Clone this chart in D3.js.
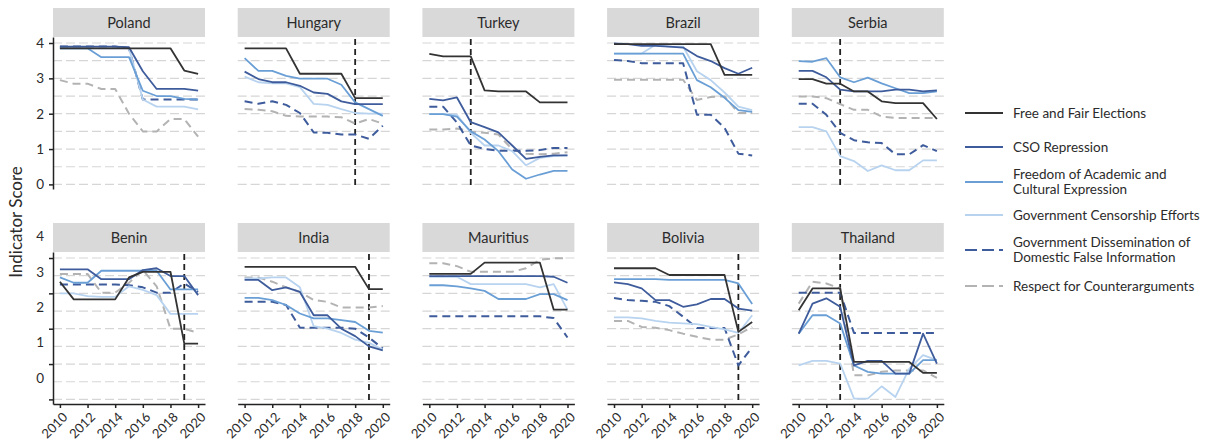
<!DOCTYPE html>
<html lang="en">
<head>
<meta charset="UTF-8" />
<title>Indicator Score by country</title>
<style>
  body { margin: 0; background: #fff; }
  svg { font-family: Lato, "Open Sans", sans-serif; }
</style>
</head>
<body>
<script src="https://cdn.jsdelivr.net/npm/d3@7"></script>
<div id="app"></div>
<script>
// data
const years = [2010, 2011, 2012, 2013, 2014, 2015, 2016, 2017, 2018, 2019, 2020];
const seriesNames = [
  "Free and Fair Elections",
  "CSO Repression",
  "Freedom of Academic and Cultural Expression",
  "Government Censorship Efforts",
  "Government Dissemination of Domestic False Information",
  "Respect for Counterarguments"
];
const countries = ["Poland", "Hungary", "Turkey", "Brazil", "Serbia",
                   "Benin", "India", "Mauritius", "Bolivia", "Thailand"];
const eventYears = [null, 2018, 2013, null, 2013, 2019, 2019, null, 2019, 2013];
const yTicks = [0, 1, 2, 3, 4];
const xTicks = [2010, 2012, 2014, 2016, 2018, 2020];

// rows follow seriesNames order
const poland = [
  [3.85, 3.85, 3.85, 3.85, 3.85, 3.85, 3.85, 3.85, 3.85, 3.22, 3.13],
  [3.9, 3.9, 3.9, 3.9, 3.9, 3.88, 3.2, 2.7, 2.7, 2.7, 2.65],
  [3.85, 3.85, 3.85, 3.6, 3.6, 3.6, 2.65, 2.5, 2.5, 2.42, 2.4],
  [3.85, 3.85, 3.85, 3.85, 3.85, 3.85, 2.4, 2.2, 2.2, 2.2, 2.12],
  [3.9, 3.9, 3.9, 3.9, 3.9, 3.85, 2.4, 2.4, 2.4, 2.4, 2.4],
  [2.95, 2.85, 2.85, 2.7, 2.7, 2.0, 1.5, 1.5, 1.85, 1.85, 1.35]
];
const hungary = [
  [3.85, 3.85, 3.85, 3.85, 3.13, 3.13, 3.13, 3.13, 2.44, 2.44, 2.44],
  [3.19, 2.98, 2.89, 2.89, 2.79, 2.6, 2.56, 2.35, 2.27, 2.27, 2.27],
  [3.57, 3.21, 3.21, 3.07, 2.99, 2.99, 2.99, 2.82, 2.32, 2.13, 1.94],
  [3.05, 2.89, 2.86, 2.86, 2.75, 2.28, 2.25, 2.13, 2.02, 2.0, 2.0],
  [2.35, 2.28, 2.35, 2.25, 2.02, 1.47, 1.46, 1.41, 1.41, 1.29, 1.66],
  [2.13, 2.11, 2.07, 1.94, 1.92, 1.92, 1.92, 1.9, 1.72, 1.85, 1.72]
];
const turkey = [
  [3.69, 3.62, 3.62, 3.62, 2.66, 2.63, 2.63, 2.63, 2.32, 2.32, 2.32],
  [2.42, 2.38, 2.46, 1.76, 1.62, 1.47, 1.1, 0.72, 0.78, 0.82, 0.82],
  [1.99, 1.99, 1.92, 1.5, 1.27, 0.94, 0.42, 0.16, 0.28, 0.38, 0.38],
  [1.99, 1.99, 1.97, 1.46, 1.1, 1.1, 0.94, 0.54, 0.75, 0.8, 0.82],
  [2.2, 2.2, 1.75, 1.1, 1.0, 0.95, 0.95, 0.95, 0.97, 1.03, 1.03],
  [1.55, 1.55, 1.58, 1.5, 1.46, 1.41, 0.99, 0.87, 0.85, 0.87, 0.91]
];
const brazil = [
  [3.97, 3.97, 3.97, 3.97, 3.97, 3.97, 3.97, 3.97, 3.1, 3.1, 3.1],
  [3.99, 3.97, 3.92, 3.92, 3.9, 3.87, 3.63, 3.49, 3.29, 3.13, 3.3],
  [3.7, 3.7, 3.7, 3.7, 3.7, 3.7, 2.95, 2.75, 2.45, 2.1, 2.05],
  [3.7, 3.7, 3.7, 3.95, 3.9, 3.9, 3.2, 2.95, 2.6, 2.2, 2.1],
  [3.52, 3.49, 3.43, 3.43, 3.43, 3.43, 1.97, 1.97, 1.6, 0.87, 0.82],
  [2.96, 2.96, 2.96, 2.96, 2.96, 2.96, 2.39, 2.47, 2.49, 2.02, 2.02]
];
const serbia = [
  [2.98, 2.98, 2.85, 2.85, 2.63, 2.63, 2.35, 2.3, 2.3, 2.3, 1.85],
  [3.21, 3.21, 3.03, 2.68, 2.63, 2.63, 2.63, 2.68, 2.68, 2.63, 2.66],
  [3.49, 3.47, 3.57, 3.03, 2.89, 3.02, 2.86, 2.72, 2.58, 2.58, 2.63],
  [1.62, 1.62, 1.5, 0.8, 0.66, 0.38, 0.54, 0.4, 0.4, 0.68, 0.68],
  [2.28, 2.28, 1.97, 1.46, 1.25, 1.19, 1.17, 0.85, 0.85, 1.11, 0.94],
  [2.49, 2.49, 2.44, 2.27, 2.11, 2.11, 1.92, 1.88, 1.88, 1.88, 1.88]
];
const benin = [
  [3.33, 2.83, 2.83, 2.83, 2.83, 3.45, 3.61, 3.61, 3.61, 1.58, 1.58],
  [3.68, 3.68, 3.68, 3.4, 3.4, 3.4, 3.66, 3.71, 3.49, 3.49, 2.95],
  [3.45, 3.3, 3.3, 3.64, 3.64, 3.64, 3.64, 3.64, 3.11, 3.11, 3.11],
  [3.0, 3.0, 2.92, 2.9, 2.9, 3.2, 3.1, 2.95, 2.42, 2.42, 2.42],
  [3.25, 3.25, 3.25, 3.25, 3.25, 3.23, 3.17, 3.02, 3.02, 3.28, 3.04],
  [3.55, 3.55, 3.55, 3.02, 3.02, 3.3, 3.66, 3.2, 2.0, 2.0, 1.88]
];
const india = [
  [3.75, 3.75, 3.75, 3.75, 3.75, 3.75, 3.75, 3.75, 3.75, 3.12, 3.12],
  [3.38, 3.38, 3.09, 3.17, 3.04, 2.38, 2.38, 2.0, 1.79, 1.5, 1.39],
  [2.87, 2.87, 2.81, 2.67, 2.43, 2.29, 2.29, 2.24, 2.19, 1.94, 1.89],
  [3.42, 3.42, 3.45, 3.45, 3.17, 2.07, 2.0, 1.88, 1.69, 1.6, 1.41],
  [2.76, 2.76, 2.76, 2.67, 2.03, 2.03, 2.03, 2.03, 2.0, 1.75, 1.44],
  [3.45, 3.45, 3.33, 3.17, 3.04, 2.81, 2.76, 2.6, 2.6, 2.6, 2.64]
];
const mauritius = [
  [3.55, 3.55, 3.55, 3.55, 3.87, 3.87, 3.87, 3.87, 3.87, 2.54, 2.54],
  [3.49, 3.49, 3.49, 3.49, 3.49, 3.49, 3.49, 3.49, 3.49, 3.47, 3.3],
  [3.23, 3.23, 3.2, 3.14, 3.07, 2.84, 2.84, 2.84, 2.98, 2.98, 2.81],
  [3.47, 3.47, 3.47, 3.26, 3.26, 3.26, 3.26, 3.26, 3.17, 3.26, 2.54],
  [2.35, 2.35, 2.35, 2.35, 2.35, 2.35, 2.35, 2.35, 2.35, 2.3, 1.75],
  [3.85, 3.85, 3.77, 3.61, 3.61, 3.61, 3.61, 3.71, 3.95, 3.99, 3.99]
];
const bolivia = [
  [3.71, 3.71, 3.71, 3.71, 3.52, 3.52, 3.52, 3.52, 3.52, 1.91, 2.19],
  [3.31, 3.26, 3.14, 2.81, 2.81, 2.62, 2.69, 2.84, 2.84, 2.57, 2.51],
  [3.4, 3.4, 3.4, 3.4, 3.38, 3.38, 3.38, 3.38, 3.38, 3.28, 2.7],
  [2.32, 2.32, 2.29, 2.22, 2.17, 2.15, 2.13, 2.05, 1.98, 1.88, 2.38],
  [2.87, 2.81, 2.79, 2.76, 2.64, 2.34, 2.02, 2.02, 2.02, 0.96, 1.48],
  [2.22, 2.22, 2.05, 2.03, 1.96, 1.86, 1.77, 1.69, 1.69, 1.84, 2.05]
];
const thailand = [
  [2.52, 3.14, 3.14, 3.14, 1.06, 1.06, 1.06, 1.06, 1.06, 0.75, 0.75],
  [1.86, 2.71, 2.86, 2.62, 0.96, 1.09, 1.09, 0.73, 0.73, 1.86, 1.01],
  [1.86, 2.38, 2.38, 2.15, 0.96, 0.78, 0.73, 0.73, 0.73, 1.11, 1.11],
  [0.96, 1.09, 1.09, 1.01, 0.02, 0.02, 0.37, 0.07, 0.87, 1.25, 1.11],
  [3.02, 3.02, 3.02, 3.02, 1.88, 1.88, 1.88, 1.88, 1.88, 1.88, 1.88],
  [2.71, 3.33, 3.28, 3.14, 0.68, 0.68, 0.78, 0.82, 0.82, 0.82, 0.61]
];
const countryData = [poland, hungary, turkey, brazil, serbia,
                     benin, india, mauritius, bolivia, thailand];

// look
const colors = ["#333333", "#3e5c9c", "#6a9fd6", "#b8d3ef", "#3e5c9c", "#b3b3b3"];
const dashes = [null, null, null, null, "8,5", "8,5"];
const drawOrder = [5, 4, 3, 2, 1, 0];

// layout
const w = 1217;
const h = 441;
const panelW = 152;
const panelH = 152;
const stripH = 29;
const left0 = 53;
const colStep = 184.7;
const rowTop = [8, 223];

const svg = d3.select("#app")
  .append("svg")
  .attr("width", w)
  .attr("height", h);

const x = d3.scaleLinear().domain([2009.5, 2020.5]).range([0, panelW]);
const y = d3.scaleLinear().domain([-0.13, 4.17]).range([panelH, 0]);

const line = d3.line()
  .x((d, j) => x(years[j]))
  .y(d => y(d));

countries.forEach((name, i) => {
  const col = i % 5;
  const row = Math.floor(i / 5);
  const g = svg.append("g")
    .attr("transform", "translate(" + (left0 + col * colStep) + "," + (rowTop[row] + stripH) + ")");

  // strip
  g.append("rect")
    .attr("x", 0)
    .attr("y", -stripH)
    .attr("width", panelW)
    .attr("height", stripH)
    .attr("fill", "#d9d9d9");
  g.append("text")
    .attr("x", panelW / 2)
    .attr("y", -stripH / 2)
    .attr("dy", "0.36em")
    .attr("text-anchor", "middle")
    .attr("font-size", 14.5)
    .attr("fill", "#2b2b2b")
    .text(name);

  // grid
  g.selectAll(".grid")
    .data(d3.range(0, 4.01, 0.5))
    .enter()
    .append("line")
    .attr("x1", 0)
    .attr("x2", panelW)
    .attr("y1", d => y(d))
    .attr("y2", d => y(d))
    .attr("stroke", "#d6d6d6")
    .attr("stroke-width", 1.2)
    .attr("stroke-dasharray", "9,4");

  // event marker
  if (eventYears[i] !== null) {
    g.append("line")
      .attr("x1", x(eventYears[i]))
      .attr("x2", x(eventYears[i]))
      .attr("y1", 2)
      .attr("y2", panelH)
      .attr("stroke", "#222")
      .attr("stroke-width", 1.8)
      .attr("stroke-dasharray", "6,4");
  }

  // series
  drawOrder.forEach(s => {
    g.append("path")
      .datum(countryData[i][s])
      .attr("d", line)
      .attr("fill", "none")
      .attr("stroke", colors[s])
      .attr("stroke-width", s >= 4 ? 2 : 1.8)
      .attr("stroke-dasharray", dashes[s])
      .attr("stroke-linejoin", "round");
  });

  // axes
  if (col === 0) {
    const ya = g.append("g")
      .call(d3.axisLeft(y).tickValues(yTicks).tickFormat(d3.format("d"))
        .tickSize(4).tickSizeOuter(0).tickPadding(5));
    ya.select(".domain").attr("stroke", "#222").attr("stroke-width", 1.5);
    ya.selectAll(".tick line").attr("stroke", "#222").attr("stroke-width", 1.5);
    ya.selectAll(".tick text")
      .attr("font-size", 13.5)
      .attr("fill", "#2b2b2b")
      .attr("font-family", "Lato, sans-serif");
    if (row === 1) {
      ya.selectAll(".tick text").attr("transform", "translate(0,-21.5)");
    }
  }
  if (row === 1) {
    const xa = g.append("g")
      .attr("transform", "translate(0," + panelH + ")")
      .call(d3.axisBottom(x).tickValues(xTicks)
        .tickFormat(d3.format("d")).tickSize(4).tickSizeOuter(0));
    xa.select(".domain").attr("stroke", "#222").attr("stroke-width", 1.5);
    xa.selectAll(".tick line").attr("stroke", "#222").attr("stroke-width", 1.5);
    xa.selectAll(".tick text")
      .attr("x", 0)
      .attr("y", 0)
      .attr("dy", 0)
      .attr("text-anchor", "end")
      .attr("transform", "translate(8,14) rotate(-45)")
      .attr("font-size", 13)
      .attr("fill", "#2b2b2b")
      .attr("font-family", "Lato, sans-serif");
  }
});

// y title
svg.append("text")
  .attr("transform", "translate(22,222) rotate(-90)")
  .attr("text-anchor", "middle")
  .attr("font-size", 17)
  .attr("fill", "#2b2b2b")
  .text("Indicator Score");

// legend
const legendLines = [
  ["Free and Fair Elections"],
  ["CSO Repression"],
  ["Freedom of Academic and", "Cultural Expression"],
  ["Government Censorship Efforts"],
  ["Government Dissemination of", "Domestic False Information"],
  ["Respect for Counterarguments"]
];
const legendY = [113, 147, 182, 215, 250, 286];

const legend = svg.append("g");
seriesNames.forEach((s, k) => {
  legend.append("line")
    .attr("x1", 965)
    .attr("x2", 1003)
    .attr("y1", legendY[k])
    .attr("y2", legendY[k])
    .attr("stroke", colors[k])
    .attr("stroke-width", 2)
    .attr("stroke-dasharray", k >= 4 ? "12,5" : null);
  const t = legend.append("text")
    .attr("x", 1013)
    .attr("y", legendY[k])
    .attr("font-size", 13.5)
    .attr("fill", "#2b2b2b");
  const parts = legendLines[k];
  parts.forEach((p, m) => {
    t.append("tspan")
      .attr("x", 1013)
      .attr("y", legendY[k] + (m - (parts.length - 1) / 2) * 14.5)
      .attr("dy", "0.35em")
      .text(p);
  });
});
</script>
</body>
</html>
